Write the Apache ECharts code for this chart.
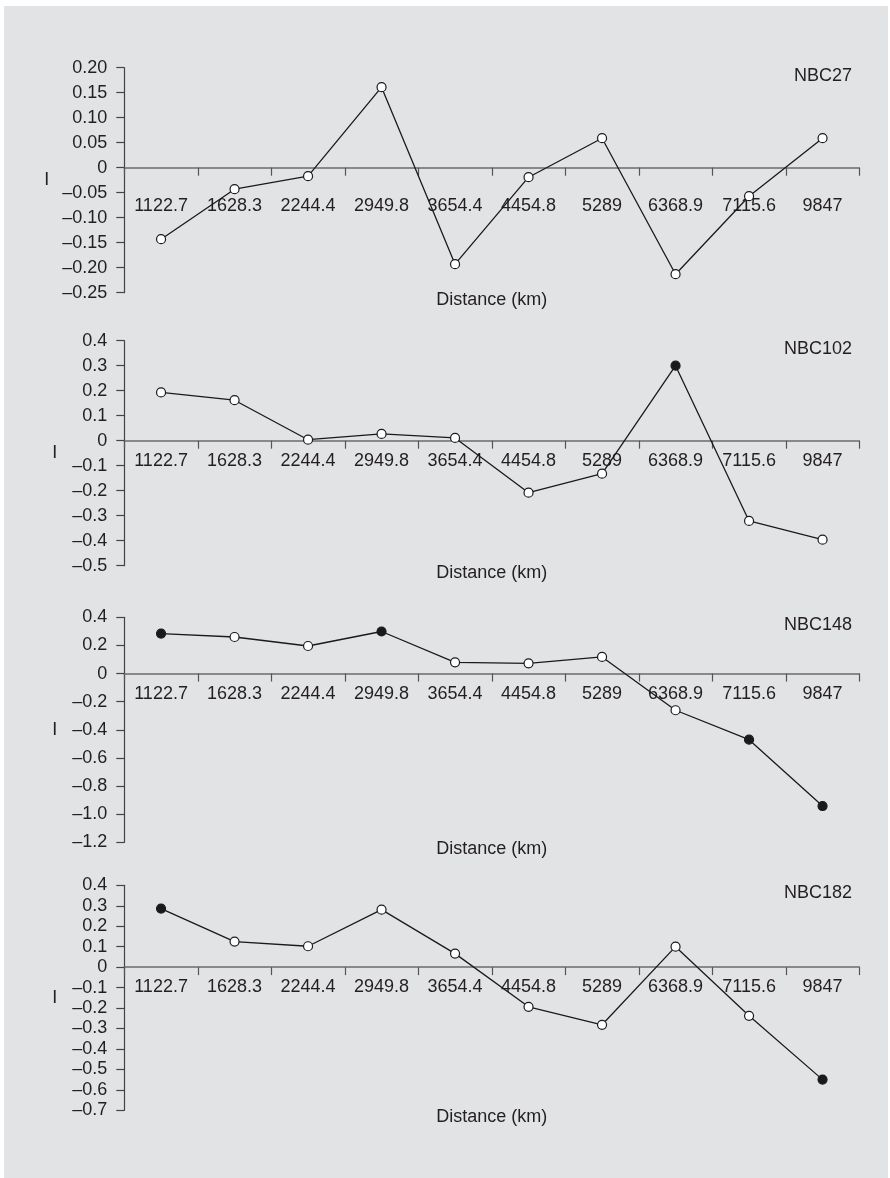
<!DOCTYPE html>
<html>
<head>
<meta charset="utf-8">
<script src="https://cdn.jsdelivr.net/npm/echarts@6/dist/echarts.min.js"></script>
<style>
  html, body { margin: 0; padding: 0; background: #ffffff; }
  #bg { position: absolute; left: 4px; top: 6px; width: 884px; height: 1172px; background: #e2e3e5; }
  #chart { position: absolute; left: 0; top: 0; width: 890px; height: 1178px; }
</style>
</head>
<body>
<div id="bg"></div>
<div id="chart"></div>
<script>
// ---- data ----
const distances = ['1122.7', '1628.3', '2244.4', '2949.8', '3654.4', '4454.8', '5289', '6368.9', '7115.6', '9847'];
const panelNames = ['NBC27', 'NBC102', 'NBC148', 'NBC182'];

const nbc27  = [-0.143, -0.043, -0.017, 0.161, -0.193, -0.019, 0.059, -0.213, -0.057, 0.059];
const nbc102 = [0.193, 0.162, 0.004, 0.027, 0.011, -0.208, -0.132, 0.300, -0.321, -0.396];
const nbc148 = [0.284, 0.260, 0.196, 0.299, 0.080, 0.073, 0.118, -0.261, -0.470, -0.942];
const nbc182 = [0.286, 0.125, 0.102, 0.281, 0.066, -0.194, -0.282, 0.100, -0.238, -0.550];

// indices of filled (significant) points
const filled27  = [];
const filled102 = [7];
const filled148 = [0, 3, 8, 9];
const filled182 = [0, 9];

// y-axis scales: [min, max, interval, decimals]
const yScale27  = [-0.25, 0.20, 0.05, 2];
const yScale102 = [-0.5, 0.4, 0.1, 1];
const yScale148 = [-1.2, 0.4, 0.2, 1];
const yScale182 = [-0.7, 0.4, 0.1, 1];

const xAxisTitle = 'Distance (km)';
const yAxisTitle = 'I';

// ---- layout ----
const series = [nbc27, nbc102, nbc148, nbc182];
const filled = [filled27, filled102, filled148, filled182];
const scales = [yScale27, yScale102, yScale148, yScale182];
const gridTops = [67.7, 340.7, 617.3, 885.3];
const gridH = 225;
const gridLeft = 124.3;
const gridW = 735;
const labelMargins = [29, 11, 11, 11];
const nameGaps = [75, 67, 67, 67];
const FONT = '"Liberation Sans", Arial, sans-serif';
const FS = 18;
const TXT = '#231f20';

function fmt(v, d) {
  const r = Math.round(v * 1000) / 1000;
  if (Math.abs(r) < 1e-9) return '0';
  const s = Math.abs(r).toFixed(d);
  return (r < 0 ? '\u2013' : '') + s;
}

const grids = [], xAxes = [], yAxes = [], seriesOpt = [], graphics = [];
for (let i = 0; i < 4; i++) {
  const sc = scales[i];
  // place the category axis where the value axis crosses zero
  const zeroFromBottom = gridH * (0 - sc[0]) / (sc[1] - sc[0]);
  grids.push({ left: gridLeft, top: gridTops[i], width: gridW, height: gridH, containLabel: false });
  xAxes.push({
    type: 'category', gridIndex: i, data: distances, boundaryGap: true,
    position: 'bottom', offset: -zeroFromBottom,
    axisLine: { onZero: false, lineStyle: { color: '#6b6c6e', width: 1.6 } },
    axisTick: { show: true, length: 8, inside: false, alignWithLabel: false, lineStyle: { color: '#555', width: 1.2 } },
    axisLabel: { interval: 0, margin: labelMargins[i], color: TXT, fontSize: FS, fontFamily: FONT },
    splitLine: { show: false }
  });
  yAxes.push({
    type: 'value', gridIndex: i, min: sc[0], max: sc[1], interval: sc[2],
    name: yAxisTitle, nameLocation: 'middle', nameRotate: 0, nameGap: nameGaps[i],
    nameTextStyle: { color: TXT, fontSize: FS, fontFamily: FONT },
    axisLine: { show: true, onZero: false, lineStyle: { color: '#444', width: 1.2 } },
    axisTick: { show: true, length: 8, inside: false, lineStyle: { color: '#444', width: 1.2 } },
    axisLabel: { margin: 17, color: TXT, fontSize: FS, fontFamily: FONT, formatter: (v) => fmt(v, sc[3]) },
    splitLine: { show: false }
  });
  const fset = new Set(filled[i]);
  seriesOpt.push({
    type: 'line', xAxisIndex: i, yAxisIndex: i,
    data: series[i].map((v, k) => ({
      value: v,
      itemStyle: { color: fset.has(k) ? '#1a1a1a' : '#ffffff', borderColor: '#1a1a1a', borderWidth: 1.2 }
    })),
    symbol: 'circle', symbolSize: 9, showSymbol: true,
    lineStyle: { color: '#1a1a1a', width: 1.3 },
    emphasis: { disabled: true },
    z: 5
  });
  graphics.push({
    type: 'text', x: 852, y: gridTops[i] + 8,
    style: { text: panelNames[i], fill: TXT, font: FS + 'px ' + FONT, textAlign: 'right', textVerticalAlign: 'middle' }
  });
  graphics.push({
    type: 'text', x: gridLeft + gridW / 2, y: gridTops[i] + gridH + 7,
    style: { text: xAxisTitle, fill: TXT, font: FS + 'px ' + FONT, textAlign: 'center', textVerticalAlign: 'middle' }
  });
}

const chart = echarts.init(document.getElementById('chart'), null, { renderer: 'canvas' });
chart.setOption({
  animation: false,
  backgroundColor: 'transparent',
  grid: grids,
  xAxis: xAxes,
  yAxis: yAxes,
  series: seriesOpt,
  graphic: graphics
});
</script>
</body>
</html>
